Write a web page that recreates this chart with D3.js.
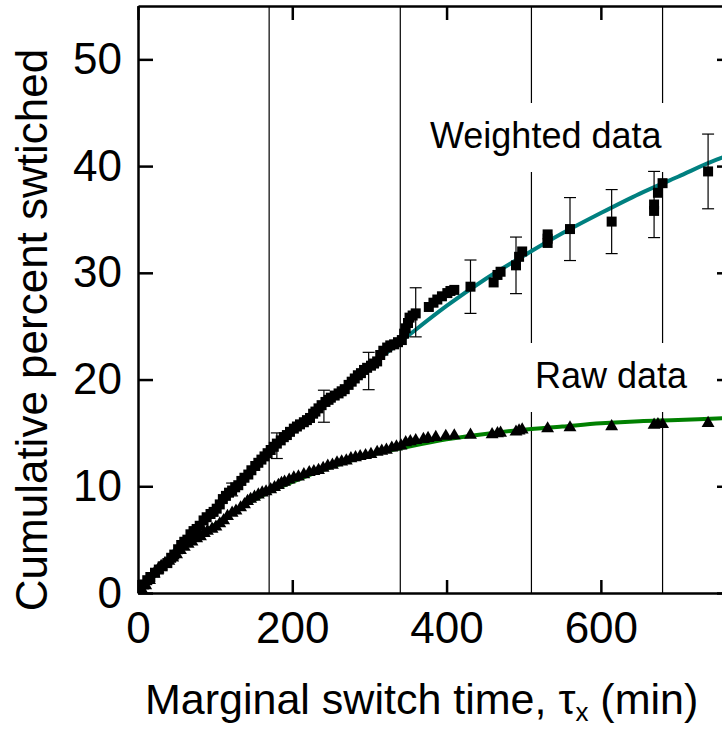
<!DOCTYPE html>
<html>
<head>
<meta charset="utf-8">
<script src="https://cdn.jsdelivr.net/npm/d3@7"></script>
<style>
body { margin: 0; background: #fff; }
svg text { font-family: "Liberation Sans", Arial, sans-serif; fill: #000; }
</style>
</head>
<body>
<div id="chart"></div>
<script>
// weighted data (squares)
var weightedMin = [3,8,12,16,22,27,32,38,43,47,52,56,60,64,68,72,76,80,85,89,94,98,102,106,110,114,118,122,126,130,
    134,138,143,147,152,156,160,164,168,172,176,180,185,189,193,197,202,206,210,215,219,223,227,230,234,238,243,247,250,255,
    260,264,268,273,277,281,285,289,293,297,302,306,310,314,318,323,327,332,337,342,345,347,350,352,356,360,377,383,388,394,
    401,405,410,431,461,466,470,490,494,498,531,531,531,560,614,669,669,674,680,739];
var weightedPct = [0.3,0.8,1.2,1.5,1.9,2.2,2.5,2.8,3.3,3.6,4.1,4.5,4.8,5.0,5.5,5.8,6.0,6.3,6.8,7.1,7.4,7.6,7.9,8.3,8.8,9.1,9.4,9.6,9.9,10.1,
    10.5,10.8,11.1,11.5,11.9,12.2,12.5,12.8,13.1,13.4,13.7,14.0,14.3,14.6,14.8,15.1,15.4,15.6,15.8,16.0,16.2,16.4,16.8,17.0,17.3,17.6,17.9,18.1,18.3,18.5,
    18.7,18.9,19.1,19.5,19.8,20.1,20.4,20.6,20.9,21.1,21.3,21.5,21.7,22.3,22.7,23.0,23.2,23.3,23.5,23.7,24.3,24.8,25.3,25.8,26.0,26.2,26.8,27.2,27.5,27.8,
    28.1,28.3,28.4,28.7,29.1,29.8,30.1,30.7,31.5,32.0,32.8,33.2,33.6,34.1,34.8,35.8,36.4,37.5,38.4,39.5];

// raw data (triangles)
var rawMin = [5,10,15,21,26,30,35,40,45,50,55,60,65,70,76,81,86,90,96,101,106,111,116,122,127,133,138,142,146,151,
    156,161,166,172,177,182,186,190,196,202,208,215,222,228,234,240,246,252,258,264,270,276,282,288,295,302,310,316,322,329,
    335,341,347,353,360,370,376,386,399,410,431,459,466,470,490,494,498,531,560,614,669,674,680,739];
var rawPct = [0.3,0.7,1.2,1.8,2.2,2.5,2.8,3.0,3.3,3.6,4.0,4.3,4.6,4.8,5.1,5.3,5.6,5.8,6.0,6.2,6.5,6.8,7.2,7.5,7.7,8.0,8.3,8.6,8.8,9.0,
    9.2,9.4,9.5,9.7,9.9,10.1,10.3,10.4,10.6,10.8,10.9,11.1,11.3,11.4,11.5,11.7,11.9,12.0,12.2,12.3,12.4,12.6,12.7,12.8,12.9,13.0,13.2,13.3,13.4,13.6,
    13.7,13.8,14.1,14.2,14.3,14.4,14.5,14.6,14.7,14.75,14.8,14.85,14.95,15.0,15.1,15.2,15.3,15.4,15.5,15.6,15.75,15.8,15.8,15.9];

// error bars on the weighted data
var errMin = [122, 180, 241, 299, 360, 431, 490, 560, 614, 669, 739];
var errPct = [9.7, 13.8, 17.5, 20.8, 26.3, 28.7, 30.7, 34.1, 34.8, 36.4, 39.5];
var errHalf = [0.6, 1.2, 1.5, 1.75, 2.3, 2.5, 2.65, 2.95, 3.0, 3.1, 3.5];

// fitted curves
var fitMin = [0,50,100,150,200,250,300,350,400,450,500,550,600,650,700,750,770];
var fitWeighted = [0,4.2,8.1,11.7,15.0,18.2,21.2,24.1,26.9,29.4,31.6,33.7,35.6,37.4,39.0,40.6,41.1];
var fitRaw = [0,3.6,6.4,8.7,10.4,11.8,12.9,13.7,14.4,14.9,15.3,15.6,15.9,16.1,16.2,16.35,16.4];

var gridMin = [170, 340, 510, 680];
var xTicks = [0, 200, 400, 600];
var yTicks = [0, 10, 20, 30, 40, 50];

var W = 722, H = 731;
var pad = {left: 138, right: 732, top: 6, bottom: 593};

var svg = d3.select("#chart").append("svg")
    .attr("width", W)
    .attr("height", H)
    .style("display", "block");

svg.append("rect").attr("width", W).attr("height", H).attr("fill", "#fff");

var x = d3.scaleLinear().domain([0, 770]).range([pad.left, pad.right]);
var y = d3.scaleLinear().domain([0, 55]).range([pad.bottom, pad.top]);

svg.append("defs").append("clipPath").attr("id", "plotClip")
    .append("rect")
    .attr("x", pad.left).attr("y", pad.top)
    .attr("width", pad.right - pad.left).attr("height", pad.bottom - pad.top);

var plot = svg.append("g").attr("clip-path", "url(#plotClip)");

// thin vertical reference lines
plot.selectAll(".grid")
    .data(gridMin)
    .enter().append("line")
    .attr("class", "grid")
    .attr("x1", function(d) { return x(d); })
    .attr("x2", function(d) { return x(d); })
    .attr("y1", y(0))
    .attr("y2", y(55))
    .attr("stroke", "#000")
    .attr("stroke-width", 1.2);

// label boxes blank out the lines behind the text
plot.append("rect").attr("x", 425).attr("y", 103).attr("width", 245).attr("height", 69).attr("fill", "#fff");
plot.append("rect").attr("x", 524).attr("y", 343).attr("width", 168).attr("height", 69).attr("fill", "#fff");

svg.append("text").attr("x", 430).attr("y", 148).attr("font-size", 36).text("Weighted data");
svg.append("text").attr("x", 535).attr("y", 388).attr("font-size", 36).text("Raw data");

var line = d3.line()
    .x(function(d) { return x(d[0]); })
    .y(function(d) { return y(d[1]); })
    .curve(d3.curveMonotoneX);

plot.append("path")
    .datum(d3.zip(fitMin, fitWeighted))
    .attr("d", line)
    .attr("fill", "none")
    .attr("stroke", "#008080")
    .attr("stroke-width", 4);

plot.append("path")
    .datum(d3.zip(fitMin, fitRaw))
    .attr("d", line)
    .attr("fill", "none")
    .attr("stroke", "#008000")
    .attr("stroke-width", 4);

// error bars
var errData = errMin.map(function(m, i) { return {m: m, lo: errPct[i] - errHalf[i], hi: errPct[i] + errHalf[i]}; });
var eb = plot.selectAll(".err").data(errData).enter().append("g").attr("class", "err")
    .attr("stroke", "#000").attr("stroke-width", 1.2);
eb.append("line")
    .attr("x1", function(d) { return x(d.m); }).attr("x2", function(d) { return x(d.m); })
    .attr("y1", function(d) { return y(d.lo); }).attr("y2", function(d) { return y(d.hi); });
eb.append("line")
    .attr("x1", function(d) { return x(d.m) - 6; }).attr("x2", function(d) { return x(d.m) + 6; })
    .attr("y1", function(d) { return y(d.lo); }).attr("y2", function(d) { return y(d.lo); });
eb.append("line")
    .attr("x1", function(d) { return x(d.m) - 6; }).attr("x2", function(d) { return x(d.m) + 6; })
    .attr("y1", function(d) { return y(d.hi); }).attr("y2", function(d) { return y(d.hi); });

// markers
var tri = d3.symbol().type(d3.symbolTriangle).size(72);
plot.selectAll(".raw")
    .data(d3.zip(rawMin, rawPct))
    .enter().append("path")
    .attr("class", "raw")
    .attr("d", tri)
    .attr("transform", function(d) { return "translate(" + x(d[0]) + "," + y(d[1]) + ")"; })
    .attr("fill", "#000");

var sq = d3.symbol().type(d3.symbolSquare).size(100);
plot.selectAll(".wt")
    .data(d3.zip(weightedMin, weightedPct))
    .enter().append("path")
    .attr("class", "wt")
    .attr("d", sq)
    .attr("transform", function(d) { return "translate(" + x(d[0]) + "," + y(d[1]) + ")"; })
    .attr("fill", "#000");

// axes (inward ticks on all four sides)
function styleAxis(g) {
    g.select(".domain").attr("stroke-width", 2.5);
    g.selectAll(".tick line").attr("stroke-width", 2.5);
    g.selectAll("text").attr("font-size", 44).attr("font-family", "Liberation Sans, Arial, sans-serif").attr("fill", "#000");
}

svg.append("g")
    .attr("transform", "translate(0," + pad.bottom + ")")
    .call(d3.axisBottom(x).tickValues(xTicks).tickSizeInner(-13).tickSizeOuter(0).tickPadding(19))
    .call(styleAxis);

svg.append("g")
    .attr("transform", "translate(0," + pad.top + ")")
    .call(d3.axisTop(x).tickValues(xTicks).tickSizeInner(-14).tickSizeOuter(0).tickFormat(""))
    .call(styleAxis);

svg.append("g")
    .attr("transform", "translate(" + pad.left + ",0)")
    .call(d3.axisLeft(y).tickValues(yTicks).tickSizeInner(-15).tickSizeOuter(0).tickPadding(16))
    .call(styleAxis);

svg.append("g")
    .attr("transform", "translate(" + pad.right + ",0)")
    .call(d3.axisRight(y).tickValues(yTicks).tickSizeInner(-15).tickSizeOuter(0).tickFormat(""))
    .call(styleAxis);

// axis titles
var xt = svg.append("text").attr("x", 145).attr("y", 714).attr("font-size", 43);
xt.append("tspan").text("Marginal switch time, τ");
xt.append("tspan").attr("font-size", 26).attr("dy", 7).text("x");
xt.append("tspan").attr("dy", -7).text(" (min)");

svg.append("text")
    .attr("transform", "translate(47," + 330 + ") rotate(-90)")
    .attr("text-anchor", "middle")
    .attr("font-size", 44)
    .text("Cumulative percent swtiched");
</script>
</body>
</html>
